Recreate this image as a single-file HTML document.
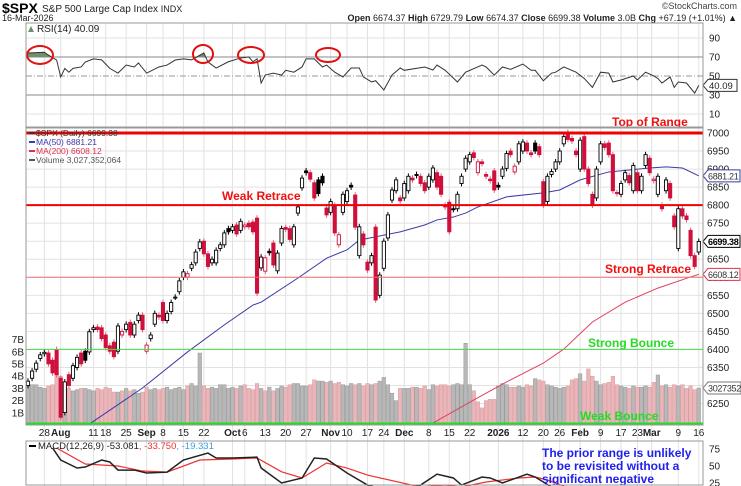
<!DOCTYPE html>
<html><head><meta charset="utf-8"><style>
html,body{margin:0;padding:0;background:#fff;width:741px;height:486px;overflow:hidden;}
svg{display:block;font-family:"Liberation Sans",Arial,sans-serif;}
</style></head><body>
<svg id="chart" width="741" height="486" viewBox="0 0 741 486" xmlns="http://www.w3.org/2000/svg">
<rect x="0" y="0" width="741" height="486" fill="#fff"/>
<g>
<text x="2" y="13" font-size="14" font-weight="bold" fill="#000">$SPX</text>
<text x="42" y="12" font-size="10" fill="#222">S&amp;P 500 Large Cap Index <tspan font-size="9">INDX</tspan></text>
<text x="2" y="21" font-size="9" fill="#222">16-Mar-2026</text>
<text x="737" y="9" font-size="9" fill="#444" text-anchor="end">©StockCharts.com</text>
<text x="737" y="21" font-size="9" fill="#222" text-anchor="end"><tspan font-weight="bold">Open</tspan> 6674.37  <tspan font-weight="bold">High</tspan> 6729.79  <tspan font-weight="bold">Low</tspan> 6674.37  <tspan font-weight="bold">Close</tspan> 6699.38  <tspan font-weight="bold">Volume</tspan> 3.0B  <tspan font-weight="bold">Chg</tspan> +67.19 (+1.01%) ▲</text>
</g>
<g id="grid"></g>
<g id="rsi"></g>
<g id="vol"></g>
<g id="price"></g>
<g id="annot"></g>
<g id="macd"></g>
<g id="frames"></g>
</svg>
<script>
const opens=[6300,6320,6345,6375,6388,6390,6370,6400,6320,6225,6330,6320,6350,6390,6395,6393,6455,6462,6460,6440,6410,6420,6395,6440,6455,6475,6440,6480,6495,6395,6430,6470,6495,6530,6480,6505,6545,6560,6600,6600,6625,6640,6680,6700,6665,6640,6640,6680,6690,6735,6730,6745,6730,6740,6750,6753,6764,6626,6617,6672,6695,6618,6695,6738,6735,6690,6778,6848,6895,6890,6862,6870,6880,6792,6780,6800,6690,6780,6810,6855,6828,6660,6720,6642,6640,6739,6550,6625,6709,6814,6840,6820,6820,6840,6875,6885,6880,6862,6850,6870,6890,6880,6800,6808,6790,6790,6860,6900,6920,6945,6890,6920,6885,6872,6895,6855,6880,6902,6950,6892,6920,6950,6972,6945,6972,6962,6865,6810,6885,6900,6920,6970,7002,6985,6950,6900,6990,6900,6830,6820,6920,6970,6972,6940,6835,6830,6870,6882,6840,6890,6840,6910,6930,6868,6830,6800,6840,6860,6770,6680,6790,6770,6730,6660,6670];
const closes=[6312,6340,6362,6385,6392,6360,6335,6330,6212,6310,6300,6355,6378,6360,6370,6449,6460,6455,6430,6405,6395,6380,6465,6450,6470,6440,6470,6495,6455,6412,6440,6500,6490,6480,6500,6530,6545,6590,6615,6610,6635,6670,6698,6665,6630,6650,6675,6690,6723,6726,6740,6720,6755,6745,6740,6726,6556,6656,6654,6668,6634,6667,6735,6733,6705,6740,6795,6875,6890,6872,6820,6832,6862,6773,6810,6723,6718,6830,6840,6850,6739,6740,6690,6620,6660,6537,6606,6700,6773,6842,6870,6812,6860,6880,6870,6882,6860,6840,6880,6903,6850,6830,6795,6726,6788,6830,6880,6930,6940,6932,6920,6915,6880,6868,6842,6850,6900,6943,6940,6908,6970,6975,6950,6940,6950,6940,6800,6880,6893,6920,6950,6990,6982,6978,6940,6980,6900,6860,6800,6900,6970,6960,6940,6840,6832,6860,6890,6862,6910,6840,6880,6940,6890,6872,6880,6790,6870,6820,6740,6790,6770,6760,6660,6630,6699.38];
const volumes=[3.2,3.3,3.3,3.1,3.0,3.2,3.3,4.2,4.0,3.3, 3.0,2.8,2.9,3.0,3.0,2.9,2.8,3.0,2.9,3.1, 3.0,2.7,2.7,2.8,3.0,2.8,2.9,2.6,2.7,3.1, 2.9,3.0,2.9,3.0,3.1,2.9,3.0,3.1,2.9,3.2, 3.4,3.2,5.9,3.2,3.0,3.1,3.0,3.3,3.3,3.0, 3.1,3.0,3.2,3.3,3.0,2.9,3.4,3.0,2.8,3.1, 2.8,3.0,3.2,3.1,3.3,3.4,3.4,3.2,3.2,3.3, 3.7,3.6,3.6,3.5,3.6,3.4,3.5,3.3,3.2,3.4, 3.3,3.4,3.2,3.4,3.3,3.4,3.6,3.9,3.3,2.6, 2.0,3.0,3.0,3.0,3.1,3.1,3.0,3.2,2.9,3.3, 3.2,3.3,3.3,3.2,3.3,3.4,3.3,6.7,3.3,2.8, 1.9,1.4,2.0,2.1,2.1,3.2,3.4,3.3,3.1,3.1, 3.2,3.1,3.3,3.2,3.8,3.7,3.6,3.3,3.2,3.1, 3.0,3.1,3.2,3.7,3.8,4.2,3.6,4.6,4.0,3.6, 3.3,3.4,3.5,4.0,3.3,3.2,3.1,3.0,3.2,3.1, 3.1,3.2,3.1,3.5,4.1,3.2,3.3,3.1,3.3,3.2, 3.3,3.0,3.2,2.9,3.03];
const ma50Idx=[15,28,39,48,55,57,66,73,78,81,87,91,97,100,104,107,110,117,126,130,135,142,152,156,160,164];
const ma50Val=[6193,6293,6393,6468,6523,6531,6598,6653,6676,6703,6717,6726,6745,6759,6767,6778,6795,6823,6834,6842,6870,6892,6903,6906,6903,6881.21];
const ma200Idx=[99,109,117,126,131,138,146,154,162,164];
const ma200Val=[6196,6260,6310,6362,6401,6476,6531,6570,6601,6608.12];
const rsiIdx=[0,4,5,7,8,9,10,11,13,14,16,18,20,22,24,26,27,29,32,34,36,38,40,43,44,46,49,52,54,55,56,57,58,60,62,63,65,67,68,70,72,73,75,77,79,81,82,84,85,87,89,91,92,97,99,100,102,105,107,111,112,114,116,118,121,123,124,126,128,129,131,134,136,138,140,142,143,145,148,149,151,153,154,155,157,158,159,161,163,164];
const rsiVal=[74.2,75,72,66.8,49,58,54,58,59.5,64.7,68,67,58,53,61.5,59.5,63.7,53,59.5,61.5,66.8,68,67,74.2,64.7,58.4,65,69,70,65,68,42.6,51,53,51,56,54,59.5,68,68,59.5,61.5,54,49,58.4,58.4,49,43.7,45,35.3,51,58.4,56,59.5,56.3,61.5,56,43.7,54,61.5,59.5,51,59.5,57,62.6,56,56,45,53,54,59.5,54,47.4,38,54,53,43.7,45.8,50,45.8,54,50,47.4,42.6,49,38,43.7,42.6,32,40.09];
const macdIdx=[6,8,12,14,18,20,22,26,29,34,38,44,46,50,56,57,62,67,70,73,78,83,90,96,100,104,106,111,113,116,122,124,126,133,142,152,164];
const macdVal=[76.5,58.8,47,48.5,58.8,55.9,44,44,39.7,41,58.8,69,61.8,61.8,63,47,25,32.4,61.8,60.3,39.7,22,10,22,38,32.4,22,33.8,32.4,25,38,33.8,26.5,0,-20,-35,-53.08];
const sigIdx=[7,14,22,28,34,42,50,56,62,67,73,78,83,96,102,106,112,120,124,127,140,155,164];
const sigVal=[76.5,52.9,50,42.6,41,58.8,60.3,61.8,41.5,32.4,54.4,47,36.7,19,22,19,26.5,32.4,33.8,29.4,0,-25,-33.75];
const priceTicks=[6250,6300,6350,6400,6450,6500,6550,6600,6650,6700,6750,6800,6850,6900,6950,7000];
const rsiTicks=[10,30,50,70,90];
const volTicks=[1,2,3,4,5,6,7];
const macdTicks=[25,50,75];
const dateLabels=["28","Aug","11","18","25","Sep","8","15","22","Oct","6","13","20","27","Nov","10","17","24","Dec","8","15","22","2026","12","20","26","Feb","9","17","23","Mar","9","16"];
const dateIdx=[4,8,16,19,24,29,33,38,43,50,53,58,63,68,74,78,83,87,92,98,103,108,115,121,126,130,135,140,145,149,152.5,159,164];
const dateBold=["Aug","Sep","Oct","Nov","Dec","2026","Feb","Mar"];

const NS="http://www.w3.org/2000/svg";
const L=26,R=703;
const xOf=i=>28+i*4.09;
const yP=p=>133+(7000-p)*0.3607;
const yV=v=>425-v*12.2;
const yR=v=>38+(90-v)*0.95;
const yM=v=>449+(75-v)*0.68;
function mk(parent,tag,attrs,txt){const e=document.createElementNS(NS,tag);for(const k in attrs)e.setAttribute(k,attrs[k]);if(txt!==undefined)e.textContent=txt;document.getElementById(parent).appendChild(e);return e;}

for(const d of dateIdx){const l=mk('grid','line',{x1:xOf(d),x2:xOf(d),y1:23,y2:486,stroke:'#e2e2e2','stroke-width':1});

}
for(const p of priceTicks){const l=mk('grid','line',{x1:L,x2:R,y1:yP(p),y2:yP(p),stroke:'#e2e2e2','stroke-width':1});


const t=mk('grid','text',{x:707,y:yP(p)+3.5,'font-size':10,fill:'#222'},String(p));

}
for(const v of rsiTicks){const strong=(v===30||v===70);const l=mk('grid','line',{x1:L,x2:R,y1:yR(v),y2:yR(v),stroke:strong?'#888':(v===50?'#999':'#e2e2e2'),'stroke-width':1,'stroke-dasharray':v===50?'6,2,1,2':'none'});


const t=mk('grid','text',{x:709,y:yR(v)+3.5,'font-size':10,fill:'#222'},String(v));

}
for(const v of volTicks){const t=mk('grid','text',{x:24,y:yV(v)+3.5,'font-size':10,fill:'#222','text-anchor':'end'},v+'B');

}
for(const v of macdTicks){const t=mk('grid','text',{x:709,y:yM(v)+3.5,'font-size':10,fill:'#222'},String(v));

}
for(let k=0;k<dateLabels.length;k++){const t=mk('grid','text',{x:xOf(dateIdx[k]),y:436,'font-size':10,fill:'#222','text-anchor':'middle','font-weight':dateBold.includes(dateLabels[k])?'bold':'normal'},dateLabels[k]);

}

let rp=rsiIdx.map((d,k)=>xOf(d)+','+yR(rsiVal[k])).join(' ');
const cpo=mk('rsi','clipPath',{id:'ob'});
const cro=document.createElementNS(NS,'rect');cro.setAttribute('x',L);cro.setAttribute('y',23);cro.setAttribute('width',R-L);cro.setAttribute('height',yR(70)-23);cpo.appendChild(cro);
const fillPts=xOf(rsiIdx[0])+','+yR(70)+' '+rp+' '+xOf(rsiIdx[rsiIdx.length-1])+','+yR(70);
const rf=mk('rsi','polygon',{points:fillPts,fill:'#6f8f6f','clip-path':'url(#ob)'});


const rl=mk('rsi','polyline',{points:rp,fill:'none',stroke:'#333','stroke-width':1});


const rt=mk('rsi','text',{x:37,y:32,'font-size':10,fill:'#222'},'RSI(14) 40.09');


const ri=mk('rsi','polygon',{points:'28,32 31,26 34,32',fill:'#6f8f6f'});


const circles=[[40,55,13,9],[203,54,10,9],[251,55,13,8],[328,55,12,7]];
for(const c of circles){const e=mk('rsi','ellipse',{cx:c[0],cy:c[1],rx:c[2],ry:c[3],fill:'none',stroke:'#e21010','stroke-width':2});

}

for(let i=0;i<volumes.length;i++){const down=i>0&&closes[i]<closes[i-1];const b=mk('vol','rect',{x:xOf(i)-1.8,y:yV(volumes[i]),width:3.6,height:425-yV(volumes[i]),fill:down?'#e9b7bb':'#b8b8b8',stroke:down?'#d99':'#999','stroke-width':0.5});

}

const m50=mk('price','polyline',{points:ma50Idx.map((d,k)=>xOf(d)+','+yP(ma50Val[k])).join(' '),fill:'none',stroke:'#3a3aa8','stroke-width':1});


const m200=mk('price','polyline',{points:ma200Idx.map((d,k)=>xOf(d)+','+yP(ma200Val[k])).join(' '),fill:'none',stroke:'#e04060','stroke-width':1});



for(let i=0;i<opens.length;i++){const o=opens[i],c=closes[i];const down=i>0&&c<closes[i-1];const col=down?'#d0103a':'#000';
const hi=Math.max(o,c)+8,lo=Math.min(o,c)-8;const x=xOf(i);
const w=mk('price','line',{x1:x,x2:x,y1:yP(hi),y2:yP(lo),stroke:down?'#e06080':'#000','stroke-width':1});


const top=yP(Math.max(o,c)),h=Math.max(1,yP(Math.min(o,c))-top);
const b=mk('price','rect',{x:x-1.6,y:top,width:3.2,height:h,fill:c<o?col:'#fff',stroke:col,'stroke-width':0.9});

}

const hl=[[7000,'#f00000',3],[6800,'#f00000',2],[6600,'#f07070',1],[6400,'#44dd44',1],[6200,'#22dd22',3]];
for(const h of hl){const yy=yP(h[0])+(h[0]===6200?2.5:0);const l=mk('annot','line',{x1:L,x2:R,y1:yy,y2:yy,stroke:h[1],'stroke-width':h[2]});

}
const labs=[['Top of Range',612,126,'#f01010'],['Weak Retrace',222,200,'#f01010'],['Strong Retrace',605,273,'#f01010'],['Strong Bounce',588,347,'#22dd22'],['Weak Bounce',580,420,'#22dd22']];
for(const a of labs){const t=mk('annot','text',{x:a[1],y:a[2],'font-size':12,'font-weight':'bold',fill:a[3]},a[0]);

}
const leg=[['$SPX (Daily) 6699.38',136,'#333'],['MA(50) 6881.21',145,'#3a3aa8'],['MA(200) 6608.12',154,'#e03050'],['Volume 3,027,352,064',163,'#555']];
for(const g of leg){const t=mk('annot','text',{x:36,y:g[1],'font-size':8.5,fill:g[2]},g[0]);


const s=mk('annot','line',{x1:29,x2:35,y1:g[1]-3,y2:g[1]-3,stroke:g[2],'stroke-width':2});

}
const tags=[[6881.21,'6881.21','#3a3aa8',false],[6699.38,'6699.38','#000',true],[6608.12,'6608.12','#e03050',false]];
for(const g of tags){const y=yP(g[0]);const p=mk('annot','polygon',{points:`703,${y} 708,${y-6} 740,${y-6} 740,${y+6} 708,${y+6}`,fill:'#fff',stroke:g[2],'stroke-width':1});


const t=mk('annot','text',{x:708,y:y+3.5,'font-size':9,'letter-spacing':'-0.3',fill:g[3]?'#000':'#333','font-weight':g[3]?'bold':'normal'},g[1]);

}
{const y=yV(3.03);const p=mk('annot','polygon',{points:`703,${y} 708,${y-6} 741,${y-6} 741,${y+6} 708,${y+6}`,fill:'#fff',stroke:'#777','stroke-width':1});


const t=mk('annot','text',{x:708,y:y+3.5,'font-size':9,'letter-spacing':'-0.3',fill:'#333'},'3027352');

}
{const y=yR(40.09);const p=mk('annot','polygon',{points:`703,${y} 708,${y-6} 737,${y-6} 737,${y+6} 708,${y+6}`,fill:'#fff',stroke:'#333','stroke-width':1});


const t=mk('annot','text',{x:709,y:y+3.5,'font-size':9.5,fill:'#222'},'40.09');

}

const cp=mk('macd','clipPath',{id:'mclip'});
const cr=document.createElementNS(NS,'rect');cr.setAttribute('x',L);cr.setAttribute('y',441);cr.setAttribute('width',R-L);cr.setAttribute('height',45);cp.appendChild(cr);
const sl=mk('macd','polyline',{points:sigIdx.map((d,k)=>xOf(d)+','+yM(sigVal[k])).join(' '),fill:'none',stroke:'#f03030','stroke-width':1.2,'clip-path':'url(#mclip)'});


const ml=mk('macd','polyline',{points:macdIdx.map((d,k)=>xOf(d)+','+yM(macdVal[k])).join(' '),fill:'none',stroke:'#222','stroke-width':1.5,'clip-path':'url(#mclip)'});


const mt=mk('macd','text',{x:38,y:449,'font-size':9.5,fill:'#222'});


mt.innerHTML='MACD(12,26,9) -53.081<tspan fill="#f03030">, -33.750</tspan><tspan fill="#3aa0e0">, -19.331</tspan>';
const ms=mk('macd','line',{x1:29,x2:36,y1:446,y2:446,stroke:'#000','stroke-width':2});


const note=['The prior range is unlikely','to be revisited without a','significant negative'];
note.forEach((s,k)=>{const t=mk('macd','text',{x:542,y:457+k*13,'font-size':12,'font-weight':'bold',fill:'#2020ee'},s);

});

const fr=[[L,23,R-L,104],[L,128,R-L,297],[L,441,R-L,44]];
for(const f of fr){const r=mk('frames','rect',{x:f[0],y:f[1],width:f[2],height:f[3],fill:'none',stroke:'#999','stroke-width':1});

}
</script>
</body></html>
